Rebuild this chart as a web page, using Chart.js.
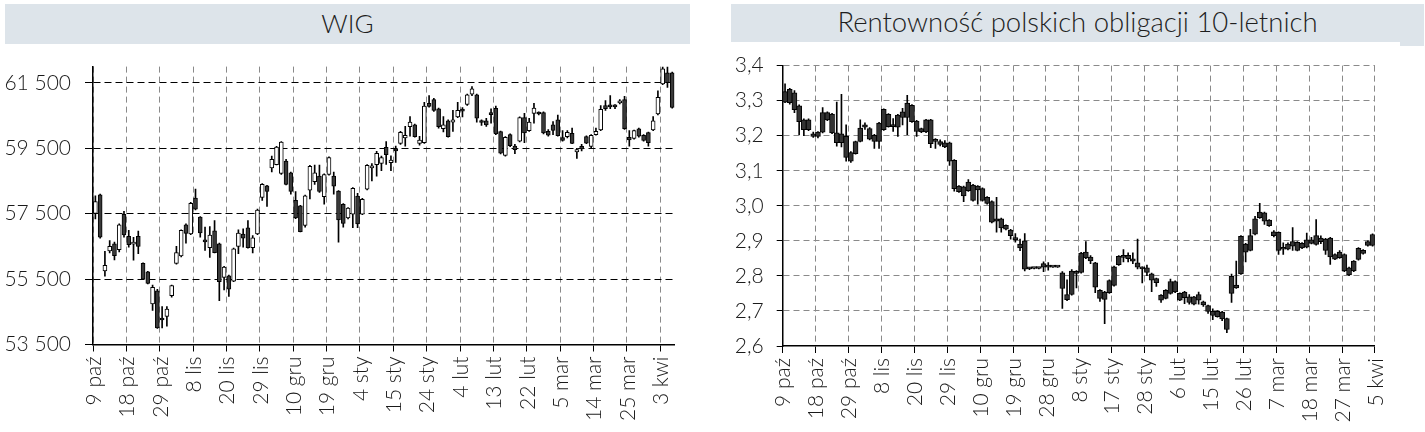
<!DOCTYPE html>
<html lang="pl">
<head>
<meta charset="UTF-8">
<title>WIG i rentowność obligacji</title>
<script src="https://cdn.jsdelivr.net/npm/chart.js"></script>
<style>
  body { margin: 0; width: 1425px; height: 432px; background: #fff; position: relative; overflow: hidden; font-family: Lato, sans-serif; }
  .title { position: absolute; background: #dde4ea; color: #1e1e1e; font-weight: 300; font-size: 26px; text-align: center; }
  canvas { position: absolute; }
</style>
</head>
<body>
<div class="title" style="left:5px;top:4px;width:685px;height:40px;line-height:38px;">WIG</div>
<div class="title" style="left:731px;top:4px;width:693px;height:38px;line-height:36px;font-size:27.5px;">Rentowność polskich obligacji 10-letnich</div>
<div class="title" style="left:1400px;top:42px;width:24px;height:4px;"></div>
<canvas id="wig" width="700" height="392" style="left:0;top:40px"></canvas>
<canvas id="bond" width="725" height="392" style="left:700px;top:40px"></canvas>
<script>
// WIG - dzienne świece (open / high / low / close)
const wigLabels = ['9 paź','18 paź','29 paź','8 lis','20 lis','29 lis','10 gru','19 gru','4 sty','15 sty','24 sty','4 lut','13 lut','22 lut','5 mar','14 mar','25 mar','3 kwi'];
const wigTicks = [53500, 55500, 57500, 59500, 61500];

const wigOpen = [57510,58080,55750,56360,56580,56400,57480,56810,56570,56810, 55980,55720,54740,55140,54280,54360,54990,55980,56210,57160,
  56880,57980,57400,56650,56460,56980,56580,55550,55600,55440, 56500,56880,57070,56460,56880,58000,58350,58900,59000,58730,
  59110,58750,57910,57740,57140,58220,58480,58650,58020,58700, 58650,58190,57790,57370,57490,58040,57490,58250,58900,59000,
  59040,59530,59060,59460,59650,59820,60160,60220,59650,59670, 60880,60990,60710,60100,60340,60300,60460,60660,60840,61160,
  61140,60310,60340,60550,60720,60010,59280,59920,59570,59720, 60440,60040,60570,60600,60590,60020,60220,60370,59830,59860,
  59960,59390,59560,59860,59560,59920,60060,60810,60790,60780, 60890,60990,59840,59800,60100,59900,59980,60060,60550,61470,
  61810,61810];
const wigHigh = [58050,58100,56350,56680,56630,57190,57570,56990,56780,56970, 56000,55740,55320,55190,54660,54660,55320,56500,57010,57190,
  57850,58250,57410,57090,57110,57290,56600,55890,55620,56450, 57010,57040,57290,56830,57640,58420,58370,59260,59560,59710,
  59160,58770,58180,57760,58070,58980,58990,58990,58720,59240, 58770,58210,57810,57690,58300,58120,57970,59000,59030,59410,
  59260,59710,59270,59570,60020,60170,60470,60240,59870,60910, 61110,61030,60730,60470,60370,60660,60910,60750,61160,61390,
  61160,60370,60420,60710,60790,60030,59860,59940,59620,60460, 60570,60420,60880,60620,60620,60070,60320,60520,60040,60040,
  60120,59500,59620,59880,59920,60120,60810,60960,61110,60840, 60990,61090,60040,60060,60120,59920,60000,60470,61260,61990,
  61990,61830];
const wigLow = [57340,56750,55590,56300,56090,56330,56780,56480,56080,56280, 55480,55350,54540,53990,54010,54060,54950,55960,56180,56600,
  56860,57620,56780,56380,56160,56300,54840,55170,54970,55420, 56280,56480,56450,56300,56860,57910,57720,58780,58990,58700,
  58380,58100,57350,56940,57090,57950,58400,58150,57790,58680, 58100,56630,57090,57340,57070,57070,57470,58230,58500,58650,
  58820,59010,58820,59070,59620,59570,59870,59840,59600,59650, 60760,60630,60120,60000,59840,60020,60440,60460,60810,61110,
  60300,60200,60170,60270,59920,59330,59260,59550,59340,59700, 59670,60020,60270,60520,59940,59870,59920,59870,59720,59820,
  59640,59190,59420,59640,59520,59900,60040,60660,60710,60710, 60860,60080,59570,59780,59840,59720,59570,60040,60520,61450,
  61360,60730];
const wigClose = [57870,56780,55920,56500,56220,57160,56850,56550,56620,56500, 55500,55370,55250,54010,54250,54580,55300,56310,56990,56900,
  57820,57640,56910,56640,56850,56310,55420,55870,55190,56430, 56910,56750,56460,56760,57610,58400,58180,59160,59540,59690,
  58400,58180,57370,56950,58050,58950,58750,58180,58700,59220, 58340,57310,57200,57670,58280,57190,57940,58980,58920,59350,
  59220,59310,59140,59420,59990,59900,60300,59860,59750,60790, 60780,60660,60160,60220,59860,60370,60660,60640,61140,61320,
  60420,60290,60220,60530,59940,59350,59840,59580,59460,60440, 59970,60300,60730,60550,59970,59900,60050,59890,59740,59990,
  59650,59460,59480,59660,59900,60020,60690,60710,60770,60770, 60950,60100,59760,60040,59870,59740,59670,60340,61060,61930,
  61510,60750];

// Rentowność 10-letnich obligacji
const bondLabels = ['9 paź','18 paź','29 paź','8 lis','20 lis','29 lis','10 gru','19 gru','28 gru','8 sty','17 sty','28 sty','6 lut','15 lut','26 lut','7 mar','18 mar','27 mar','5 kwi'];
const bondTicks = [2.6, 2.7, 2.8, 2.9, 3.0, 3.1, 3.2, 3.3, 3.4];

const bondOpen = [3.326,3.294,3.322,3.285,3.245,3.217,3.205,3.198,3.210,3.266, 3.262,3.208,3.180,3.198,3.152,3.149,3.184,3.224,3.220,3.201,
  3.184,3.217,3.261,3.226,3.224,3.252,3.252,3.287,3.242,3.220, 3.211,3.245,3.188,3.183,3.180,3.180,3.130,3.056,3.054,3.068,
  3.059,3.056,3.049,3.024,3.012,2.963,2.963,2.944,2.931,2.909, 2.891,2.900,2.822,2.821,2.821,2.835,2.826,2.825,2.825,2.809,
  2.747,2.747,2.812,2.810,2.868,2.854,2.837,2.759,2.754,2.752, 2.773,2.832,2.855,2.859,2.849,2.837,2.822,2.823,2.806,2.792,
  2.745,2.736,2.750,2.784,2.750,2.738,2.740,2.719,2.747,2.726, 2.715,2.699,2.699,2.697,2.678,2.750,2.774,2.806,2.891,2.873,
  2.919,2.966,2.980,2.959,2.926,2.924,2.878,2.876,2.898,2.896, 2.880,2.882,2.903,2.890,2.908,2.905,2.908,2.861,2.852,2.861,
  2.823,2.814,2.847,2.873,2.887,2.887];
const bondHigh = [3.348,3.335,3.329,3.288,3.248,3.248,3.210,3.212,3.280,3.268, 3.264,3.296,3.318,3.231,3.155,3.185,3.245,3.237,3.223,3.204,
  3.238,3.277,3.263,3.249,3.261,3.278,3.315,3.289,3.244,3.222, 3.247,3.247,3.192,3.188,3.186,3.182,3.132,3.058,3.056,3.075,
  3.061,3.058,3.051,3.026,3.014,3.024,2.965,2.946,2.933,2.921, 2.905,2.921,2.824,2.822,2.822,2.840,2.838,2.826,2.826,2.812,
  2.789,2.818,2.815,2.867,2.898,2.858,2.839,2.761,2.756,2.789, 2.828,2.858,2.875,2.866,2.866,2.905,2.826,2.831,2.808,2.794,
  2.747,2.761,2.791,2.786,2.752,2.756,2.747,2.742,2.754,2.728, 2.717,2.706,2.701,2.699,2.680,2.805,2.842,2.915,2.893,2.933,
  2.970,3.007,2.982,2.961,2.929,2.926,2.894,2.894,2.938,2.898, 2.895,2.922,2.910,2.961,2.914,2.907,2.910,2.863,2.872,2.863,
  2.825,2.844,2.881,2.875,2.900,2.920];
const bondLow = [3.294,3.290,3.266,3.203,3.200,3.214,3.195,3.194,3.208,3.243, 3.206,3.170,3.168,3.127,3.124,3.147,3.182,3.218,3.188,3.164,
  3.164,3.215,3.224,3.212,3.198,3.231,3.203,3.238,3.198,3.209, 3.209,3.166,3.164,3.171,3.166,3.115,3.042,3.038,3.012,3.041,
  3.013,3.005,3.013,3.005,2.951,2.925,2.925,2.931,2.905,2.896, 2.872,2.814,2.818,2.820,2.820,2.812,2.816,2.824,2.824,2.707,
  2.729,2.745,2.766,2.808,2.849,2.835,2.752,2.727,2.664,2.750, 2.771,2.830,2.840,2.840,2.835,2.820,2.780,2.801,2.755,2.770,
  2.724,2.734,2.748,2.752,2.729,2.721,2.719,2.717,2.719,2.713, 2.693,2.675,2.682,2.672,2.638,2.724,2.764,2.804,2.840,2.871,
  2.917,2.964,2.947,2.941,2.911,2.861,2.861,2.874,2.873,2.871, 2.878,2.880,2.891,2.888,2.892,2.861,2.833,2.846,2.850,2.812,
  2.801,2.812,2.845,2.862,2.885,2.885];
const bondClose = [3.296,3.332,3.274,3.240,3.217,3.245,3.198,3.210,3.266,3.245, 3.208,3.180,3.205,3.138,3.127,3.183,3.222,3.231,3.190,3.184,
  3.236,3.275,3.226,3.231,3.259,3.268,3.293,3.240,3.212,3.211, 3.245,3.177,3.184,3.175,3.168,3.127,3.049,3.040,3.028,3.043,
  3.015,3.045,3.015,3.007,2.953,2.956,2.937,2.933,2.915,2.903, 2.880,2.819,2.820,2.821,2.821,2.825,2.825,2.825,2.825,2.764,
  2.732,2.814,2.807,2.865,2.851,2.843,2.768,2.736,2.733,2.787, 2.826,2.856,2.853,2.849,2.842,2.825,2.820,2.810,2.788,2.781,
  2.731,2.759,2.784,2.754,2.731,2.754,2.724,2.740,2.731,2.717, 2.699,2.687,2.684,2.677,2.647,2.799,2.766,2.913,2.868,2.915,
  2.963,2.982,2.956,2.943,2.915,2.873,2.876,2.891,2.885,2.873, 2.893,2.903,2.893,2.915,2.898,2.873,2.854,2.848,2.868,2.814,
  2.803,2.842,2.879,2.864,2.898,2.918];

const tickFont = { family: 'Lato', size: 21, weight: '300' };

function candleChart(id, c) {
  const bodies = c.open.map((o, i) => ({ x: i + 0.5, y: [o, c.close[i]] }));
  const wicks = c.low.map((l, i) => ({ x: i + 0.5, y: [l, c.high[i]] }));
  return new Chart(document.getElementById(id), {
    type: 'bar',
    data: {
      datasets: [
        { data: bodies, order: 0, grouped: false, barThickness: c.bodyWidth, minBarLength: 2,
          borderWidth: 1, borderColor: '#000', borderSkipped: false, backgroundColor: c.bodyColor },
        { data: wicks, order: 1, grouped: false, barThickness: 1, borderWidth: 0, backgroundColor: '#000' }
      ]
    },
    options: {
      responsive: false,
      animation: false,
      layout: { padding: c.padding },
      plugins: { legend: { display: false }, tooltip: { enabled: false } },
      scales: {
        x: {
          type: 'linear', offset: false, min: 0, max: c.open.length,
          afterBuildTicks: s => { s.ticks = c.labels.map((_, k) => ({ value: k * 7 })); },
          afterFit: s => { s.height = c.xHeight; },
          ticks: { autoSkip: false, minRotation: 90, maxRotation: 90, padding: 5, labelOffset: 1,
                   color: '#1a1a1a', font: tickFont, callback: (v, i) => c.labels[i] },
          grid: { offset: false, color: '#8a8a8a', tickColor: '#000', tickLength: 7, tickWidth: 1 },
          border: { color: '#000', width: 1.5, dash: [6, 4] }
        },
        y: {
          min: c.yTicks[0], max: c.yMax,
          afterBuildTicks: s => { s.ticks = c.yTicks.map(v => ({ value: v })); },
          afterFit: s => { s.width = c.yWidth; },
          ticks: { padding: c.yPad, color: '#1a1a1a', font: tickFont, callback: c.yFormat },
          // the lowest grid line sits on the x axis, keep the axis solid
          grid: { color: g => (g.index === 0 ? 'rgba(0,0,0,0)' : c.yGrid), tickColor: '#000', tickLength: c.yTick, tickWidth: 1 },
          border: { color: '#000', width: 1.5, dash: c.yDash }
        }
      }
    }
  });
}

candleChart('wig', {
  open: wigOpen, high: wigHigh, low: wigLow, close: wigClose,
  labels: wigLabels, yTicks: wigTicks, yMax: 62000,
  bodyWidth: 4,
  bodyColor: ctx => (ctx.raw.y[1] >= ctx.raw.y[0] ? '#ffffff' : '#3a3a3a'),
  padding: { top: 24, right: 25.4, left: 0, bottom: 0 },
  xHeight: 87.5, yWidth: 93, yPad: 14, yTick: 8, yGrid: '#000', yDash: [7, 4],
  yFormat: v => String(v).replace(/\B(?=(\d{3})+(?!\d))/g, ' ')
});

candleChart('bond', {
  open: bondOpen, high: bondHigh, low: bondLow, close: bondClose,
  labels: bondLabels, yTicks: bondTicks, yMax: 3.4,
  bodyWidth: 5,
  bodyColor: '#333333',
  padding: { top: 19.5, right: 50.1, left: 0, bottom: 0 },
  xHeight: 86, yWidth: 82.7, yPad: 13, yTick: 6, yGrid: '#8a8a8a', yDash: [6, 4],
  yFormat: v => v.toFixed(1).replace('.', ',')
});
</script>
</body>
</html>
